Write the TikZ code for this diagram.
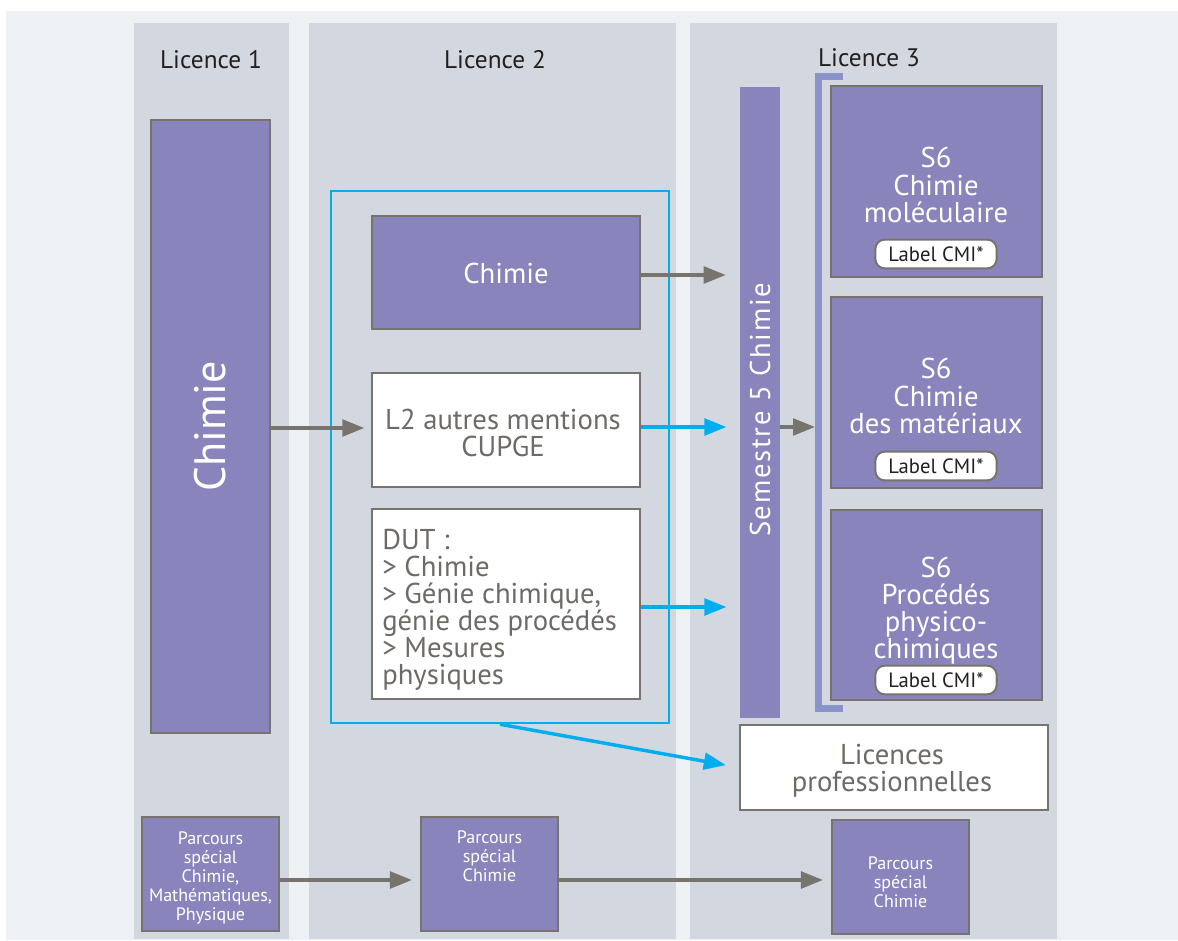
\documentclass[tikz,border=0pt]{standalone}
\usepackage{fontspec}
\setmainfont{PT Sans}
\usetikzlibrary{arrows.meta,fit,calc}
\definecolor{outerbg}{HTML}{EDF1F4}
\definecolor{colbg}{HTML}{D3D8E0}
\definecolor{purp}{HTML}{8A84BD}
\definecolor{bordergray}{HTML}{77736D}
\definecolor{cyanb}{HTML}{00AEEF}
\definecolor{brack}{HTML}{8A94CB}
\definecolor{txtgray}{HTML}{6E6A65}
\definecolor{hdr}{HTML}{231F20}
\tikzset{
  pbox/.style={inner sep=0pt, draw=bordergray, line width=1.6pt, fill=purp},
  wbox/.style={inner sep=0pt, draw=bordergray, line width=1.6pt, fill=white},
  colrect/.style={inner sep=0pt, fill=colbg},
  hdrtext/.style={text=hdr, font=\fontsize{19}{20}\selectfont},
  bigw/.style={text=white, align=center, font=\fontsize{21.5}{20.3}\selectfont},
  bigg/.style={text=txtgray, align=center, font=\fontsize{21.5}{20.3}\selectfont},
  pill/.style={draw=bordergray, line width=1.5pt, fill=white, rounded corners=7pt, minimum width=91pt, minimum height=21.5pt, inner sep=0pt, text=hdr, font=\fontsize{15.5}{16}\selectfont},
  ptext/.style={text=white, align=center, font=\fontsize{13.5}{14.2}\selectfont},
  garrow/.style={draw=bordergray, line width=2.6pt, -{Triangle[length=16.5pt,width=12.5pt]}},
  barrow/.style={draw=cyanb, line width=2.6pt, -{Triangle[length=16.5pt,width=12.5pt]}},
}
\begin{document}
\begin{tikzpicture}[x=0.75pt,y=-0.75pt]
\useasboundingbox (0,0) rectangle (1178,941);
\fill[outerbg] (6,11) rectangle (1178,940);
% columns
\node[colrect, fit={(134,23) (289,939)}] (col1) {};
\node[colrect, fit={(309,23) (676,939)}] (col2) {};
\node[colrect, fit={(690,23) (1057,939)}] (col3) {};
% headers
\node[hdrtext] (h1) at (211,60) {Licence 1};
\node[hdrtext] (h2) at (495,60) {Licence 2};
\node[hdrtext] (h3) at (869,58) {Licence 3};
% Licence 1 Chimie
\node[pbox, fit={(151,120) (270,733)}] (c1) {};
\node[rotate=90, text=white, font=\fontsize{33}{34}\selectfont] (c1t) at (c1.center) {Chimie};
% blue frame
\node[fit={(331,191) (669,723)}, inner sep=0pt, draw=cyanb, line width=1.9pt] (frame) {};
% Licence 2 boxes
\node[pbox, fit={(372,216) (640,329)}] (c2) {};
\node[bigw] (c2t) at (506,273) {Chimie};
\node[wbox, fit={(372,373) (640,487)}] (l2a) {};
\node[bigg] (l2at) at (503,433) {L2 autres mentions\\CUPGE};
\node[wbox, fit={(372,509) (640,699)}] (dut) {};
\node[bigg, align=left, anchor=north west, inner sep=0pt] (dutt) at (382,529) {DUT :\\> Chimie\\> Génie chimique,\\génie des procédés\\> Mesures\\physiques};
% Semestre 5
\node[fit={(740,87) (780,718)}, inner sep=0pt, fill=purp] (s5) {};
\node[rotate=90, text=white, font=\fontsize{21.5}{22}\selectfont\addfontfeatures{LetterSpace=6}] (s5t) at (760,410) {Semestre 5 Chimie};
% bracket
\coordinate (brtop) at (843,76.5);
\coordinate (brbot) at (843,708.5);
\draw[brack, line width=5.25pt] (brtop) -- (818.5,76.5) -- (818.5,708.5) -- (brbot);
\coordinate (brmid) at (815,427);
% S6 boxes
\node[pbox, fit={(831,86) (1042,277)}] (s6a) {};
\node[bigw] (s6at) at (936,185) {S6\\Chimie\\moléculaire};
\node[pbox, fit={(831,297) (1042,488)}] (s6b) {};
\node[bigw] (s6bt) at (936,396) {S6\\Chimie\\des matériaux};
\node[pbox, fit={(831,510) (1042,700)}] (s6c) {};
\node[bigw] (s6ct) at (936,611) {S6\\Procédés\\physico-\\chimiques};
\node[pill] (la) at (936,254) {Label CMI*};
\node[pill] (lb) at (936,466) {Label CMI*};
\node[pill] (lc) at (936,680) {Label CMI*};
% Licences pro
\node[wbox, fit={(740,725) (1048,810)}] (lp) {};
\node[bigg] (lpt) at (892,771) {Licences\\professionnelles};
% Parcours
\node[pbox, fit={(142,817) (279,931)}] (p1) {};
\node[ptext] (p1t) at (210.5,878) {Parcours\\spécial\\Chimie,\\Mathématiques,\\Physique};
\node[pbox, fit={(421,817) (558,931)}] (p2) {};
\node[ptext, anchor=north] (p2t) at ($(p2.north)+(0,10)$) {Parcours\\spécial\\Chimie};
\node[pbox, fit={(832,820) (969,934)}] (p3) {};
\node[ptext] (p3t) at (900.5,882) {Parcours\\spécial\\Chimie};
% arrows
\draw[garrow, shorten >=5pt] (c1.east |- 0,428) -- (l2a.west |- 0,428);
\draw[garrow, shorten >=10.5pt] (c2.east |- 0,275) -- (s5.west |- 0,275);
\draw[barrow, shorten >=10pt] (l2a.east |- 0,427) -- (s5.west |- 0,427);
\draw[garrow] (s5.east |- 0,427) -- (brmid);
\draw[barrow, shorten >=10pt] (dut.east |- 0,607) -- (s5.west |- 0,607);
\draw[barrow, shorten >=10pt] (frame.south) -- (lp.west);
\draw[garrow, shorten >=6pt] (p1.east |- 0,880) -- (p2.west |- 0,880);
\draw[garrow, shorten >=6pt] (p2.east |- 0,880) -- (p3.west |- 0,880);
\end{tikzpicture}
\end{document}
